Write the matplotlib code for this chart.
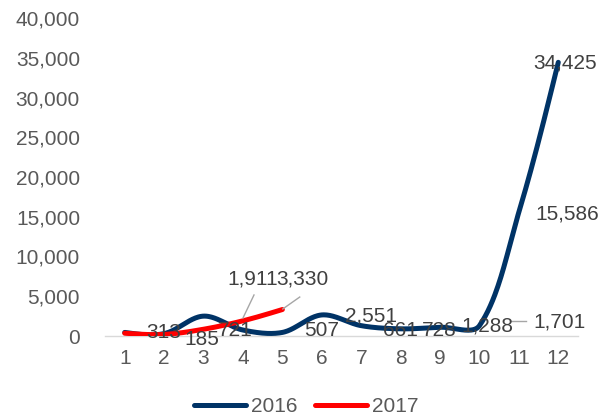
import numpy as np
import matplotlib
matplotlib.use("Agg")
import matplotlib.pyplot as plt

plt.rcParams['font.family'] = ['Liberation Sans', 'DejaVu Sans']

months = list(range(1, 13))
month_labels = [str(m) for m in months]
series_2016 = [450, 300, 2500, 750, 450, 2650, 1300, 900, 1100, 1300, 15586, 34425]
months_2017 = [1, 2, 3, 4, 5]
series_2017 = [350, 200, 850, 1911, 3330]
yticks = [0, 5000, 10000, 15000, 20000, 25000, 30000, 35000, 40000]

# data label texts (as shown in the chart)
label_values = [313, 185, 721, 1911, 3330, 507, 2551, 661, 728, 1288, 1701, 15586, 34425]
# label placement (style)
label_pos = [(2.0, 380), (2.96, -380), (3.8, 750), (4.25, 7170), (5.52, 7170),
             (6.0, 630), (7.24, 2520), (8.0, 630), (8.99, 630), (10.2, 1260),
             (12.03, 1760), (12.23, 15350), (12.18, 34280)]
leaders = [((4.0, 4.28), (2260, 5160)), ((5.01, 5.44), (3400, 4900)),
           ((10.81, 11.19), (1890, 1890))]

BLUE = '#003366'
RED = '#FF0000'


def smooth(xs, ys, sx=39.5, sy=7.95 / 1000, n=40):
    P = np.column_stack([np.asarray(xs, float) * sx, np.asarray(ys, float) * sy])
    k = len(P)
    cin = [None] * k
    cout = [None] * k
    for i in range(k):
        if i == 0 or i == k - 1:
            cin[i] = P[i]
            cout[i] = P[i]
            continue
        T = P[i + 1] - P[i - 1]
        d1 = np.linalg.norm(P[i] - P[i - 1])
        d2 = np.linalg.norm(P[i + 1] - P[i])
        f = 1.0 / 3.0
        cin[i] = P[i] - T * f * d1 / (d1 + d2)
        cout[i] = P[i] + T * f * d2 / (d1 + d2)
    if k > 2:
        cout[0] = P[0] + (cin[1] - P[0]) / 2.0
        cin[k - 1] = P[k - 1] + (cout[k - 2] - P[k - 1]) / 2.0
    pts = []
    t = np.linspace(0, 1, n)[:, None]
    for i in range(k - 1):
        p0, p1, p2, p3 = P[i], cout[i], cin[i + 1], P[i + 1]
        seg = ((1 - t) ** 3) * p0 + 3 * ((1 - t) ** 2) * t * p1 + 3 * (1 - t) * t ** 2 * p2 + t ** 3 * p3
        pts.append(seg if i == 0 else seg[1:])
    pts = np.vstack(pts)
    return pts[:, 0] / sx, pts[:, 1] / sy


fig = plt.figure(figsize=(6.02, 4.16), dpi=100)
ax = fig.add_axes([105 / 602, 1 - 336 / 416, (578 - 105) / 602, (336 - 18) / 416])

x16, y16 = smooth(months, series_2016)
x17, y17 = smooth(months_2017, series_2017)
ax.plot(x16, y16, color=BLUE, lw=3.6, solid_capstyle='round', label='2016', zorder=3)
ax.plot(x17, y17, color=RED, lw=3.6, solid_capstyle='round', label='2017', zorder=4)

for (xs, ys) in leaders:
    ax.plot(xs, ys, color='#A6A6A6', lw=1, zorder=5)

for v, (lx, ly) in zip(label_values, label_pos):
    ax.text(lx, ly, f"{v:,}", ha='center', va='center', fontsize=15,
            color='#404040', zorder=6)

ax.set_xlim(0.5, 12.5)
ax.set_ylim(0, 40000)
ax.set_xticks(months)
ax.set_xticklabels(month_labels)
ax.set_yticks(yticks)
ax.set_yticklabels([f"{t:,}" for t in yticks])
ax.tick_params(axis='both', length=0, labelsize=15, colors='#595959')
ax.tick_params(axis='y', pad=18)
ax.tick_params(axis='x', pad=9)
for s in ['top', 'right', 'left']:
    ax.spines[s].set_visible(False)
ax.spines['bottom'].set_color('#D9D9D9')
ax.spines['bottom'].set_linewidth(1)
ax.set_facecolor('none')

fig.legend(loc='center', bbox_to_anchor=(306 / 602, 1 - 407 / 416), ncol=2,
           frameon=False, fontsize=15, handlelength=2.5, handletextpad=0.24,
           columnspacing=0.82, labelcolor='#595959')

fig.savefig('out.png', dpi=100)
